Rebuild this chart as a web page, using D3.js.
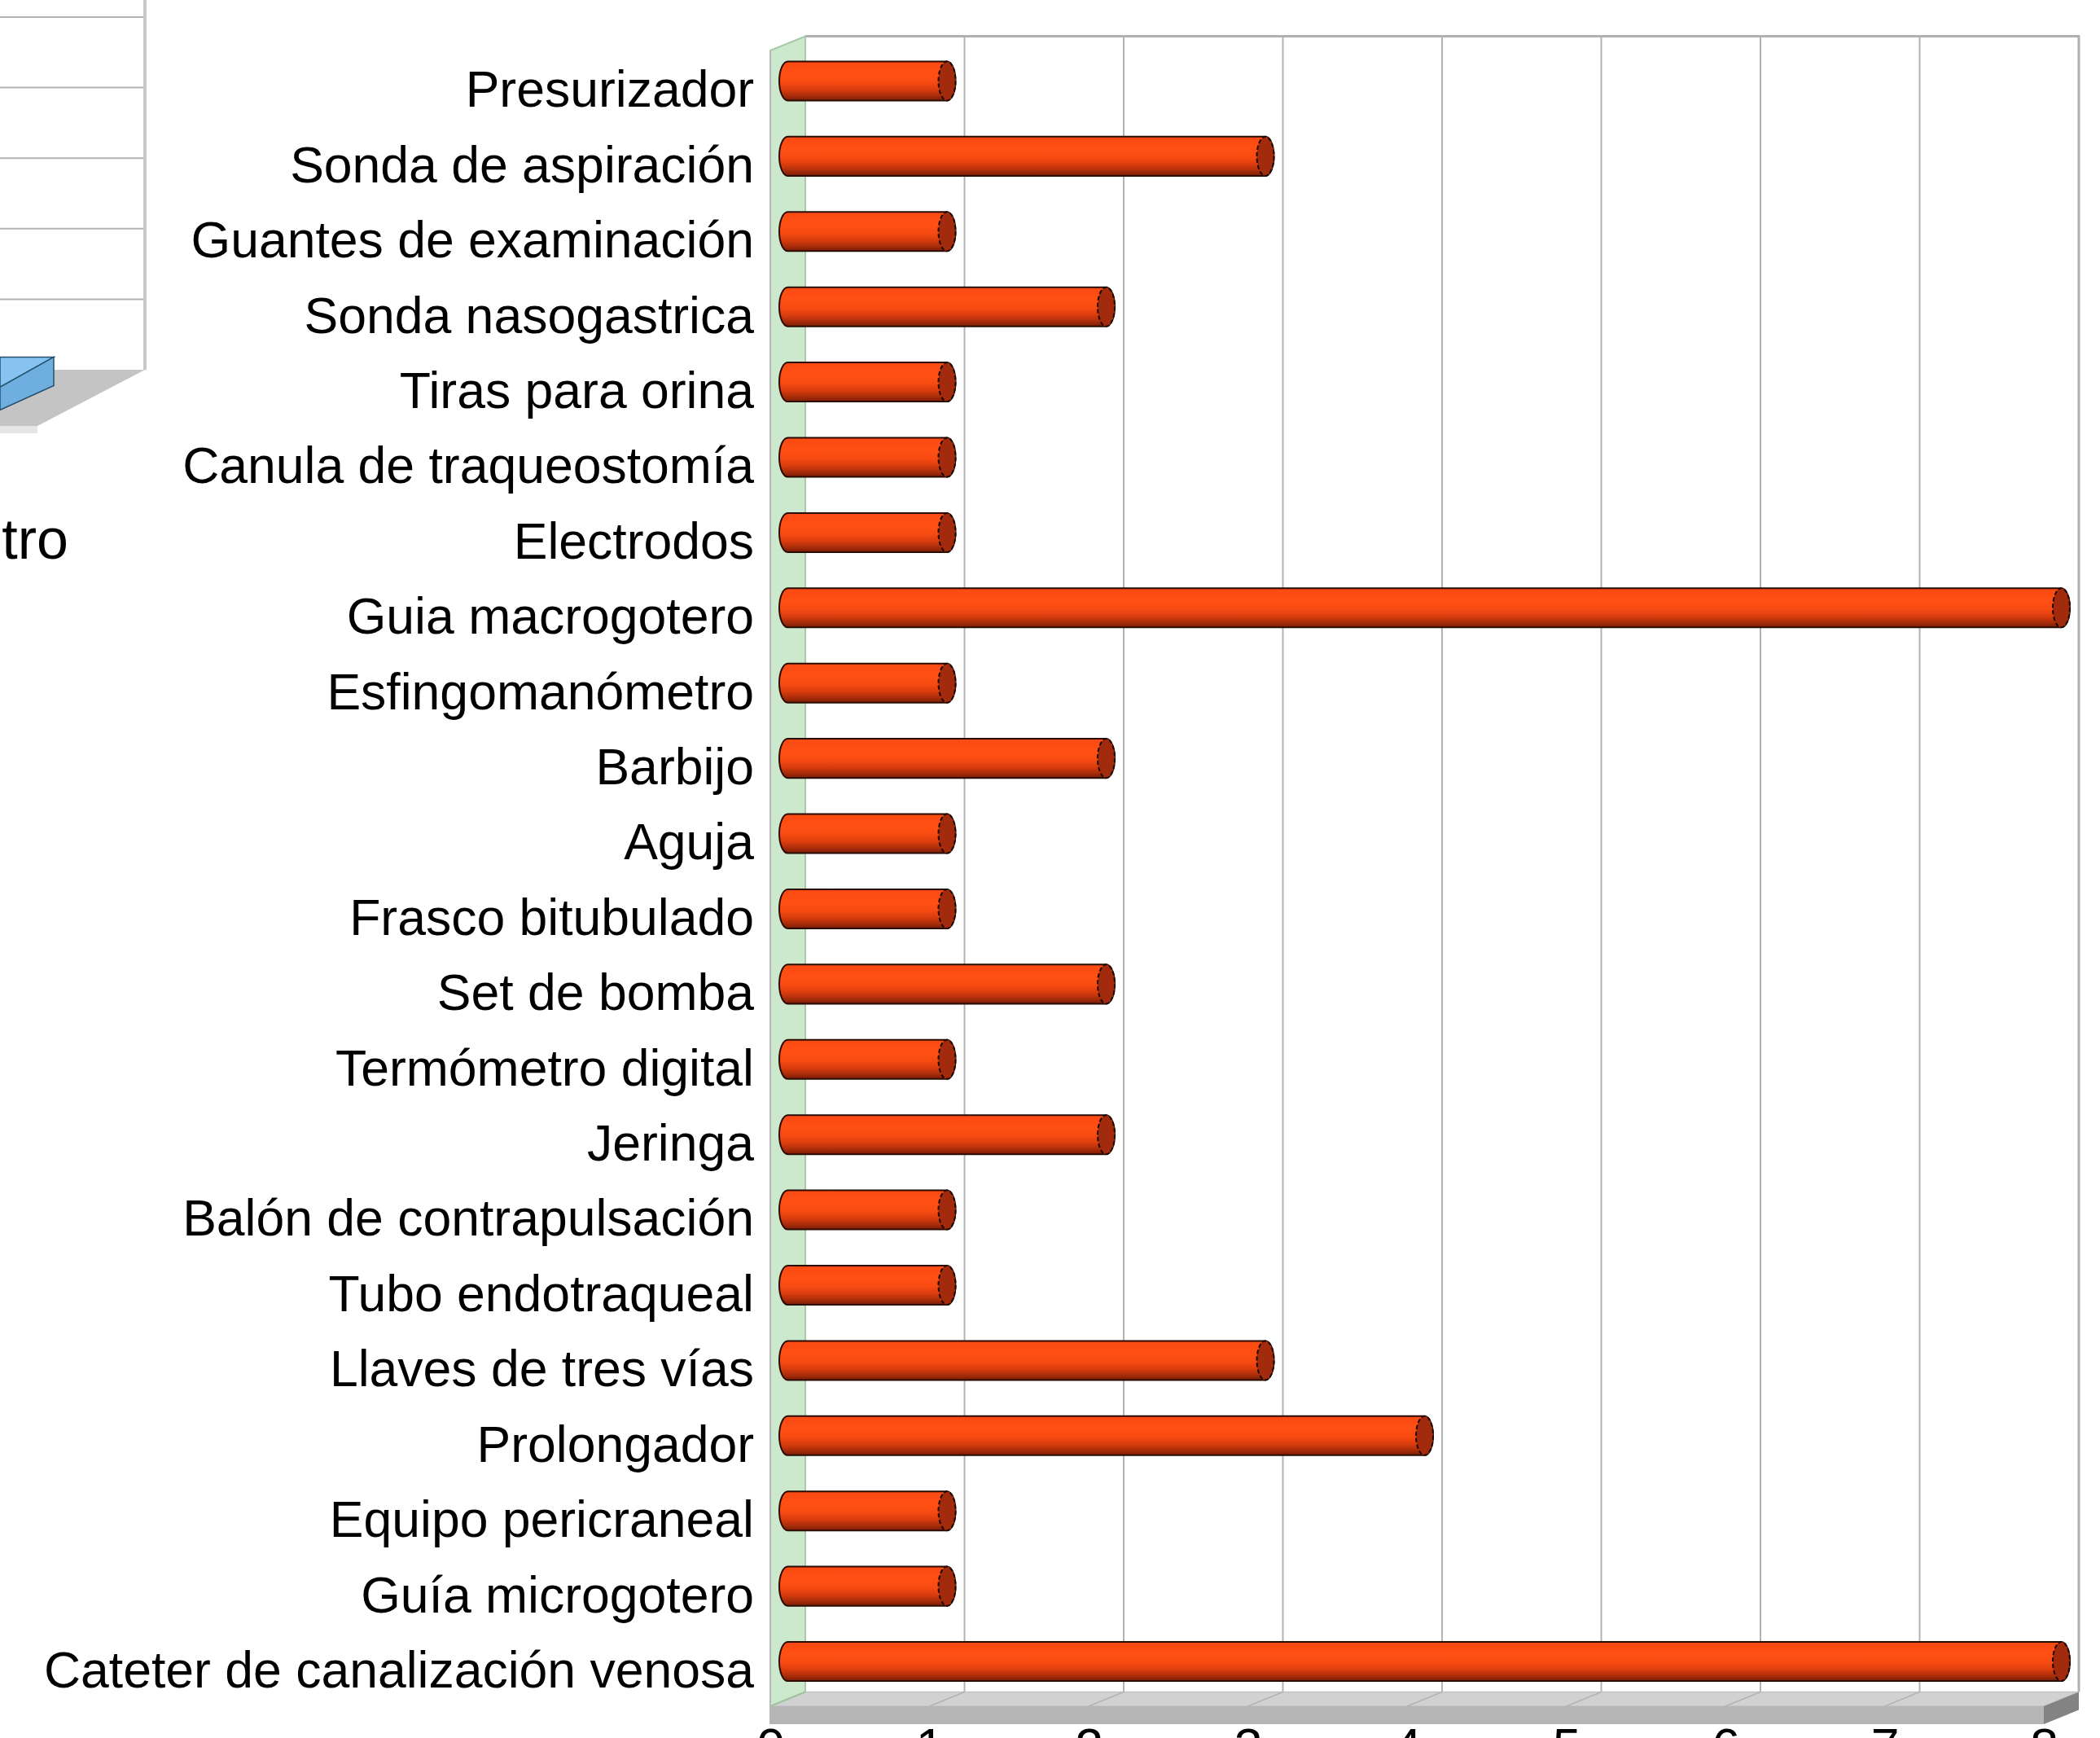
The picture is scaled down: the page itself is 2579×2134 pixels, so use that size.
<!DOCTYPE html>
<html>
<head>
<meta charset="utf-8">
<script src="https://cdn.jsdelivr.net/npm/d3@7"></script>
<style>
  html, body { margin: 0; padding: 0; background: #fff; overflow: hidden; }
  svg { display: block; }
</style>
</head>
<body>
<svg id="chart" width="2579" height="2134"></svg>
<script>
// categories and counts, top to bottom
const categories = [
    "Presurizador", "Sonda de aspiración", "Guantes de examinación", "Sonda nasogastrica",
    "Tiras para orina", "Canula de traqueostomía", "Electrodos", "Guia macrogotero",
    "Esfingomanómetro", "Barbijo", "Aguja", "Frasco bitubulado", "Set de bomba",
    "Termómetro digital", "Jeringa", "Balón de contrapulsación", "Tubo endotraqueal",
    "Llaves de tres vías", "Prolongador", "Equipo pericraneal", "Guía microgotero",
    "Cateter de canalización venosa"
];
const values = [1, 3, 1, 2, 1, 1, 1, 8, 1, 2, 1, 1, 2, 1, 2, 1, 1, 3, 4, 1, 1, 8];
const xTicks = [0, 1, 2, 3, 4, 5, 6, 7, 8];

// neighbouring chart, only its right edge is visible
const leftTicks = [0, 1, 2, 3, 4, 5];
const leftValue = 0.18;
const leftLabel = "tro";

const svg = d3.select('#chart');
const font = '"Liberation Sans", Arial, sans-serif';

//3d depth of the plot (front -> back)
const depth = {dx: 43, dy: -17.5};

const x = d3.scaleLinear()
    .domain([0, 8])
    .range([946, 2510]);

const y = d3.scaleBand()
    .domain(categories)
    .range([62, 2095]);

const x0 = x(0), x8 = x(8);
const yTop = y.range()[0], yBot = y.range()[1];
const floorH = 22;

//gradient for the cylinders
const defs = svg.append("defs");
const grad = defs.append("linearGradient")
    .attr("id", "cyl")
    .attr("x1", 0).attr("y1", 0).attr("x2", 0).attr("y2", 1);
[["0%", "#fb4a13"], ["35%", "#ff5014"], ["55%", "#f54a12"], ["72%", "#d93c0e"],
 ["88%", "#a72c0a"], ["100%", "#7a1c05"]].forEach(s => {
    grad.append("stop").attr("offset", s[0]).attr("stop-color", s[1]);
});

// ---------- partial chart on the left ----------
const ly = d3.scaleLinear().domain([0, 5]).range([454, 21]);
const left = svg.append("g");
left.append("g")
    .selectAll("line")
    .data(leftTicks.slice(1))
    .join("line")
        .attr("x1", 0).attr("x2", 178)
        .attr("y1", d => ly(d)).attr("y2", d => ly(d))
        .attr("stroke", "#b3b3b3").attr("stroke-width", 2);
left.append("line")
    .attr("x1", 178).attr("x2", 178).attr("y1", 0).attr("y2", ly(0))
    .attr("stroke", "#c8c8c8").attr("stroke-width", 4);
left.append("polygon")
    .attr("points", `0,${ly(0)} 178,${ly(0)} 46,523 0,523`)
    .attr("fill", "#c4c4c4");
left.append("polygon")
    .attr("points", `0,523 46,523 46,532 0,532`)
    .attr("fill", "#e6e6e6");
const lTop = ly(leftValue);
left.append("polygon")
    .attr("points", `0,${lTop} 66,${lTop} 0,${lTop + 37}`)
    .attr("fill", "#86c3f0").attr("stroke", "#24506e").attr("stroke-width", 1.5);
left.append("polygon")
    .attr("points", `0,${lTop + 37} 66,${lTop} 66,${lTop + 35} 0,${lTop + 65}`)
    .attr("fill", "#6fafe0").attr("stroke", "#24506e").attr("stroke-width", 1.5);
left.append("text")
    .attr("x", 84).attr("y", 686)
    .attr("text-anchor", "end")
    .style("font", `70px ${font}`)
    .attr("fill", "#000")
    .text(leftLabel);

// ---------- main chart ----------
const plot = svg.append("g");

//left green wall
plot.append("polygon")
    .attr("points", `${x0},${yTop} ${x0 + depth.dx},${yTop + depth.dy} ${x0 + depth.dx},${yBot + depth.dy} ${x0},${yBot}`)
    .attr("fill", "#cde9cd")
    .attr("stroke", "#a9c9a9").attr("stroke-width", 2);
plot.append("line")
    .attr("x1", x0).attr("x2", x0).attr("y1", yTop).attr("y2", yBot + floorH)
    .attr("stroke", "#b8b8b8").attr("stroke-width", 2);

//back wall grid lines
plot.append("g")
    .selectAll("line")
    .data(xTicks.slice(1, -1))
    .join("line")
        .attr("x1", d => x(d) + depth.dx).attr("x2", d => x(d) + depth.dx)
        .attr("y1", yTop + depth.dy).attr("y2", yBot + depth.dy)
        .attr("stroke", "#b3b3b3").attr("stroke-width", 2);

//back wall frame
plot.append("path")
    .attr("d", `M${x0 + depth.dx},${yTop + depth.dy} H${x8 + depth.dx} V${yBot + depth.dy}`)
    .attr("fill", "none")
    .attr("stroke", "#b0b0b0").attr("stroke-width", 3);

//floor
plot.append("polygon")
    .attr("points", `${x0},${yBot} ${x0 + depth.dx},${yBot + depth.dy} ${x8 + depth.dx},${yBot + depth.dy} ${x8},${yBot}`)
    .attr("fill", "#d1d1d1").attr("stroke", "#c2c2c2").attr("stroke-width", 1.5);
plot.append("rect")
    .attr("x", x0).attr("y", yBot).attr("width", x8 - x0).attr("height", floorH)
    .attr("fill", "#b5b5b5");
plot.append("polygon")
    .attr("points", `${x8},${yBot} ${x8 + depth.dx},${yBot + depth.dy} ${x8 + depth.dx},${yBot + depth.dy + floorH} ${x8},${yBot + floorH}`)
    .attr("fill", "#838383");
plot.append("g")
    .selectAll("line")
    .data(xTicks.slice(1, -1))
    .join("line")
        .attr("x1", d => x(d) + depth.dx).attr("x2", d => x(d))
        .attr("y1", yBot + depth.dy).attr("y2", yBot)
        .attr("stroke", "#b3b3b3").attr("stroke-width", 1.5);
plot.append("line")
    .attr("x1", x0).attr("x2", x0 + depth.dx)
    .attr("y1", yBot).attr("y2", yBot + depth.dy)
    .attr("stroke", "#9fc49f").attr("stroke-width", 2);

//cylinders, sitting halfway into the depth
const rx = 10.5;
const ry = y.bandwidth() * 0.26;
const cx = v => x(v) + depth.dx / 2;
const cy = c => y(c) + y.bandwidth() / 2 + depth.dy / 2;
const bars = categories.map((c, i) => ({name: c, value: values[i]}));

const bar = plot.append("g")
    .selectAll("g")
    .data(bars)
    .join("g");

bar.append("path")
    .attr("d", d => {
        const a = cx(0), b = cx(d.value), m = cy(d.name);
        return `M${a},${m - ry} L${b},${m - ry} A${rx},${ry} 0 0 1 ${b},${m + ry} ` +
               `L${a},${m + ry} A${rx},${ry} 0 0 1 ${a},${m - ry} Z`;
    })
    .attr("fill", "url(#cyl)")
    .attr("stroke", "#2b0c02").attr("stroke-width", 2);

bar.append("ellipse")
    .attr("cx", d => cx(d.value))
    .attr("cy", d => cy(d.name))
    .attr("rx", rx).attr("ry", ry)
    .attr("fill", "#a12b0c")
    .attr("stroke", "#1a0800").attr("stroke-width", 2)
    .attr("stroke-dasharray", "5,3");

//category labels
const yAxis = svg.append("g")
    .attr("transform", `translate(926,0)`)
    .call(d3.axisLeft(y).tickSize(0).tickPadding(0));
yAxis.select(".domain").remove();
yAxis.selectAll("text")
    .attr("dy", "0.37em")
    .attr("fill", "#000")
    .style("font", `62.5px ${font}`);

//value labels, mostly below the picture edge
const xAxis = svg.append("g")
    .attr("transform", `translate(0,2122)`)
    .call(d3.axisBottom(x).tickValues(xTicks).tickSize(0).tickPadding(0).tickFormat(d3.format("d")));
xAxis.select(".domain").remove();
xAxis.selectAll("text")
    .attr("fill", "#000")
    .style("font", `62.5px ${font}`);
</script>
</body>
</html>
